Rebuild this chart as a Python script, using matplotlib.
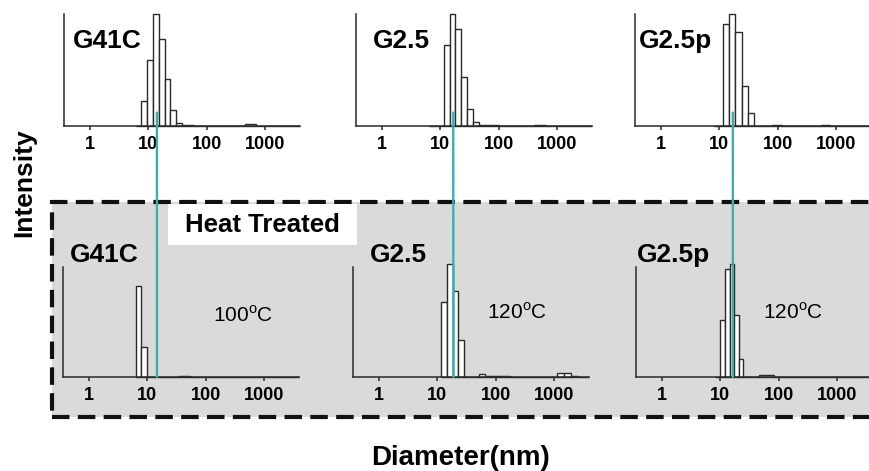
import matplotlib
matplotlib.use("Agg")
import matplotlib.pyplot as plt
from matplotlib.patches import Rectangle, ConnectionPatch
import numpy as np

plt.rcParams['font.family'] = ['Liberation Sans', 'DejaVu Sans']
plt.rcParams['mathtext.fontset'] = 'custom'
plt.rcParams['mathtext.rm'] = 'Liberation Sans'

# ---- data: bin edges (nm) and relative intensity ----
top_g41c_edges = [6.2, 7.6, 9.6, 12.0, 15.1, 19.1, 24.0, 30.2, 38.0, 60, 150, 450, 700, 1500, 4000]
top_g41c_int = [0.004, 0.22, 0.59, 1.0, 0.78, 0.42, 0.14, 0.03, 0.008, 0.004, 0.004, 0.014, 0.004, 0.004]

top_g25_edges = [6.3, 11.5, 14.5, 18.2, 22.9, 28.8, 36.3, 45.7, 100, 400, 650, 4000]
top_g25_int = [0.004, 0.72, 1.0, 0.87, 0.44, 0.15, 0.035, 0.006, 0.004, 0.012, 0.004]

top_g25p_edges = [8.0, 11.4, 14.5, 18.8, 24.5, 30.6, 38.8, 80, 120, 550, 800, 4000]
top_g25p_int = [0.004, 0.91, 1.0, 0.835, 0.36, 0.115, 0.004, 0.008, 0.004, 0.012, 0.004]

bot_g41c_edges = [6.3, 7.9, 9.75, 35, 55, 4000]
bot_g41c_int = [0.83, 0.27, 0.004, 0.012, 0.004]

bot_g25_edges = [11.5, 15.0, 18.7, 22.7, 28.7, 52, 66, 110, 180, 1120, 1480, 2000, 2600, 4000]
bot_g25_int = [0.686, 1.03, 0.78, 0.335, 0.004, 0.03, 0.005, 0.01, 0.004, 0.035, 0.035, 0.012, 0.004]

bot_g25p_edges = [8.0, 10.1, 12.2, 14.5, 17.1, 20.6, 24.5, 47, 85, 4000]
bot_g25p_int = [0.004, 0.52, 0.985, 1.03, 0.566, 0.168, 0.004, 0.015, 0.004]

names = ['G41C', 'G2.5', 'G2.5p']
temps = [r'100$^{\mathrm{o}}$C', r'120$^{\mathrm{o}}$C', r'120$^{\mathrm{o}}$C']
# teal reference line (nm) in the top and bottom panels
top_ref = [14.1, 16.7, 17.1]
bot_ref = [14.7, 19.0, 16.5]
xticks = [1, 10, 100, 1000]
xticklabels = ['1', '10', '100', '1000']

top_data = [(top_g41c_edges, top_g41c_int), (top_g25_edges, top_g25_int), (top_g25p_edges, top_g25p_int)]
bot_data = [(bot_g41c_edges, bot_g41c_int), (bot_g25_edges, bot_g25_int), (bot_g25p_edges, bot_g25p_int)]

W, H = 869, 471
fig = plt.figure(figsize=(W / 100, H / 100), dpi=100)
teal = '#3aafab'
dark = '#2a2a2a'


def add_ax(left, top, right, bottom):
    return fig.add_axes([left / W, 1 - bottom / H, (right - left) / W, (bottom - top) / H])


def style(ax, edges, vals):
    edges = np.array(edges, dtype=float)
    ax.bar(edges[:-1], vals, width=np.diff(edges), align='edge', color='white',
           edgecolor=dark, linewidth=1.0, clip_on=False, zorder=2)
    ax.set_xscale('log')
    ax.set_xlim(0.36, 4000)
    ax.set_ylim(0, 1.0)
    ax.set_facecolor('none')
    for s in ['top', 'right']:
        ax.spines[s].set_visible(False)
    for s in ['left', 'bottom']:
        ax.spines[s].set_linewidth(1.1)
        ax.spines[s].set_color(dark)
    ax.set_yticks([])
    ax.set_xticks(xticks)
    ax.set_xticklabels(xticklabels, fontsize=13, fontweight='bold')
    ax.xaxis.set_minor_locator(matplotlib.ticker.NullLocator())
    ax.tick_params(axis='x', direction='out', length=3, width=1.1, color=dark, pad=4.5)


# gray dashed "heat treated" region
fig.add_artist(Rectangle((52 / W, 1 - 417 / H), 1.0, (417 - 202) / H, transform=fig.transFigure,
                         facecolor='#dadada', edgecolor='#111111', linewidth=3,
                         linestyle=(0, (4.2, 2.0)), zorder=-2))
fig.add_artist(Rectangle((168 / W, 1 - 245 / H), (357 - 168) / W, (245 - 204) / H,
                         transform=fig.transFigure, facecolor='white', edgecolor='none', zorder=-1))
fig.text(262 / W, 1 - 225 / H, 'Heat Treated', ha='center', va='center', fontsize=18.5, fontweight='bold')

top_lefts = [64, 356, 635]
bot_lefts = [63, 353, 636]
top_name_x = [0.038, 0.072, 0.017]
bot_name_x = [0.03, 0.072, 0.004]
temp_pos = [(0.636, 0.56), (0.568, 0.59), (0.538, 0.59)]

for i in range(3):
    axt = add_ax(top_lefts[i], 14, top_lefts[i] + 236, 126)
    style(axt, *top_data[i])
    axt.text(top_name_x[i], 0.76, names[i], transform=axt.transAxes, fontsize=19,
             fontweight='bold', ha='left', va='center')

    axb = add_ax(bot_lefts[i], 267, bot_lefts[i] + 236, 377)
    style(axb, *bot_data[i])
    axb.text(bot_name_x[i], 1.11, names[i], transform=axb.transAxes, fontsize=19,
             fontweight='bold', ha='left', va='center')
    axb.text(temp_pos[i][0], temp_pos[i][1], temps[i], transform=axb.transAxes,
             fontsize=15, ha='left', va='center')

    con = ConnectionPatch(xyA=(top_ref[i], 0.12), coordsA=axt.transData,
                          xyB=(bot_ref[i], 0.0), coordsB=axb.transData,
                          color=teal, linewidth=1.7, zorder=5)
    fig.add_artist(con)

fig.text(24 / W, 1 - 183 / H, 'Intensity', rotation=90, ha='center', va='center',
         fontsize=19, fontweight='bold')
fig.text(460 / W, 1 - 458 / H, 'Diameter(nm)', ha='center', va='center',
         fontsize=20, fontweight='bold')

fig.savefig('out.png', dpi=100)
